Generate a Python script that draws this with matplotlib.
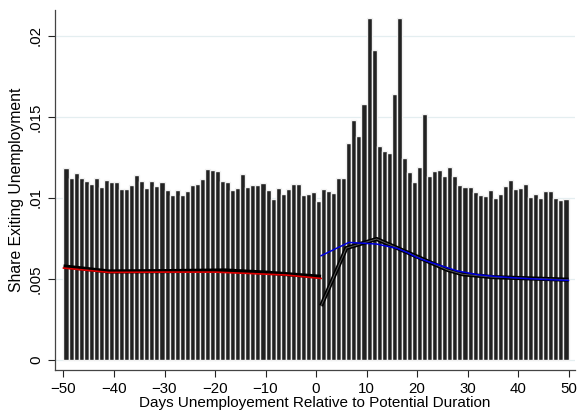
import numpy as np
import matplotlib
matplotlib.use("Agg")
import matplotlib.pyplot as plt

plt.rcParams['font.family'] = ['Liberation Sans', 'DejaVu Sans']

# Days relative to potential benefit duration (bar left edges)
days = np.arange(-50, 50)

# Share exiting unemployment on each day
share = [
    0.01185, 0.01121, 0.01154, 0.01125, 0.01105, 0.01086, 0.01125, 0.01070, 0.01113, 0.01096,
    0.01096, 0.01055, 0.01057, 0.01080, 0.01144, 0.01105, 0.01062, 0.01103, 0.01072, 0.01096,
    0.01051, 0.01016, 0.01049, 0.01016, 0.01043, 0.01080, 0.01088, 0.01119, 0.01181, 0.01175,
    0.01169, 0.01107, 0.01099, 0.01051, 0.01064, 0.01150, 0.01066, 0.01082, 0.01078, 0.01094,
    0.01051, 0.00996, 0.01064, 0.01027, 0.01057, 0.01088, 0.01086, 0.01018, 0.01025, 0.01039,
    0.00983, 0.01058, 0.01042, 0.01031, 0.01125, 0.01123, 0.01337, 0.01483, 0.01383, 0.01582,
    0.02111, 0.01915, 0.01323, 0.01290, 0.01275, 0.01640, 0.02111, 0.01247, 0.01160, 0.01100,
    0.01193, 0.01518, 0.01138, 0.01167, 0.01175, 0.01138, 0.01193, 0.01138, 0.01080, 0.01066,
    0.01066, 0.01039, 0.01020, 0.01014, 0.01049, 0.00998, 0.01022, 0.01072, 0.01111, 0.01055,
    0.01064, 0.01086, 0.01008, 0.01025, 0.01000, 0.01045, 0.01045, 0.01002, 0.00988, 0.00996,
]

# Model fit (black), before and after exhaustion
fit_pre_x = [-50, -41, -30, -18, -10, 1]
fit_pre_y = [0.00578, 0.00547, 0.00549, 0.00553, 0.00540, 0.00514]
fit_post_x = [1, 6, 12, 26, 29, 35, 50]
fit_post_y = [0.00335, 0.00691, 0.00747, 0.00557, 0.00530, 0.00512, 0.00496]

# Smoothed empirical hazard before exhaustion (red)
smooth_pre_x = [-50, -41, -30, -20, -12, -6, 1]
smooth_pre_y = [0.00568, 0.00541, 0.00543, 0.00543, 0.00533, 0.00525, 0.00504]

# Smoothed empirical hazard after exhaustion (blue)
smooth_post_x = [1, 6.5, 12, 14, 16, 18, 20, 22, 24, 26, 28, 32, 36, 40, 45, 50]
smooth_post_y = [0.00644, 0.00726, 0.00716, 0.00703, 0.00690, 0.00665, 0.00633, 0.00610,
                 0.00590, 0.00570, 0.00550, 0.00527, 0.00515, 0.00506, 0.00498, 0.00492]

yticks = [0, 0.005, 0.01, 0.015, 0.02]
ytick_labels = ["0", ".005", ".01", ".015", ".02"]
xticks = [-50, -40, -30, -20, -10, 0, 10, 20, 30, 40, 50]

fig = plt.figure(figsize=(5.78, 4.11), dpi=100)
ax = fig.add_axes([0.095, 0.10, 0.90, 0.876])

for yt in yticks:
    ax.axhline(yt, color='#e4eef0', lw=0.9, zorder=0)

ax.bar(days, share, width=1.0, align='edge', color='#222222',
       edgecolor='#f2f2f2', linewidth=1.0, zorder=2)

ax.plot(fit_pre_x, fit_pre_y, color='black', lw=3.0, zorder=3, solid_capstyle='butt')
ax.plot(fit_post_x, fit_post_y, color='black', lw=3.0, zorder=3, solid_capstyle='butt')
ax.plot(fit_post_x, fit_post_y, color='#555555', lw=0.7, zorder=3.5)
ax.plot(smooth_pre_x, smooth_pre_y, color='#e00000', lw=1.2, zorder=4)
ax.plot(smooth_post_x, smooth_post_y, color='#0000e0', lw=1.1, zorder=4)

ax.set_xlim(-51.7, 51.3)
ax.set_ylim(-0.0006, 0.0216)
ax.set_yticks(yticks)
ax.set_yticklabels(ytick_labels, rotation=90, va='center')
ax.set_xticks(xticks)

for s in ['top', 'right']:
    ax.spines[s].set_visible(False)
for s in ['left', 'bottom']:
    ax.spines[s].set_color('#444444')
    ax.spines[s].set_linewidth(0.9)

ax.tick_params(axis='both', labelsize=10.8, colors='#222222', length=5, width=0.8)
ax.tick_params(axis='both', labelcolor='black')
ax.set_xlabel("Days Unemployement Relative to Potential Duration", fontsize=11, labelpad=0)
ax.set_ylabel("Share Exiting Unemployment", fontsize=11.3, labelpad=4)

fig.savefig("out.png", dpi=100)
